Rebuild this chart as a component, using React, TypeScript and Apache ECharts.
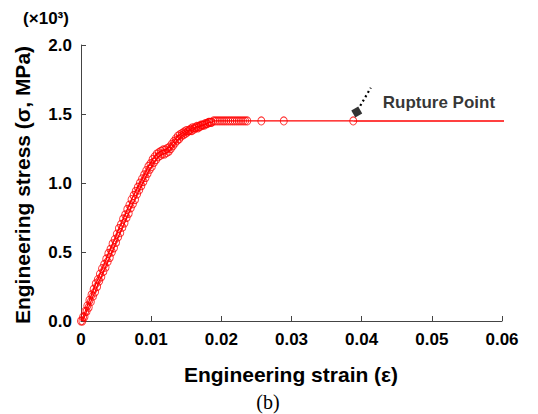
import React, { useEffect, useRef } from "react";
import * as echarts from "echarts";

// Engineering strain (-) and engineering stress (x10^3 MPa), upper branch of the band
const strainA = [
  0.0, 0.0003, 0.0006, 0.0009, 0.0012, 0.0015, 0.0018, 0.0021, 0.0024, 0.0027,
  0.003, 0.0033, 0.0036, 0.0039, 0.0042, 0.0045, 0.0048, 0.0051, 0.0054, 0.0057,
  0.006, 0.0063, 0.0066, 0.0069, 0.0072, 0.0075, 0.0078, 0.0081, 0.0084, 0.0087,
  0.009, 0.0093, 0.0096, 0.0099, 0.0102, 0.0105, 0.0108, 0.0111, 0.0114, 0.0117,
  0.012, 0.0123, 0.0126, 0.0129, 0.0132, 0.0135, 0.0138, 0.0141, 0.0144, 0.0147,
  0.015, 0.0153, 0.0156, 0.0159, 0.0162, 0.0165, 0.0168, 0.0171, 0.0174, 0.0177,
  0.018, 0.0183, 0.0186, 0.0189, 0.0192, 0.0195, 0.0198, 0.0201, 0.0204, 0.0207,
  0.021, 0.0213, 0.0216, 0.0219, 0.0222, 0.0225, 0.0228, 0.0231, 0.0234, 0.0237,
  0.0257, 0.0289, 0.0388,
];
const stressA = [
  0.0, 0.03, 0.07, 0.11, 0.15, 0.19, 0.23, 0.27, 0.3, 0.34,
  0.38, 0.41, 0.45, 0.49, 0.52, 0.56, 0.59, 0.63, 0.67, 0.7,
  0.74, 0.77, 0.81, 0.84, 0.88, 0.91, 0.94, 0.97, 1.0, 1.03,
  1.06, 1.09, 1.12, 1.14, 1.17, 1.19, 1.21, 1.22, 1.23, 1.24,
  1.24, 1.25, 1.26, 1.28, 1.3, 1.32, 1.34, 1.35, 1.36, 1.37,
  1.38, 1.38, 1.39, 1.4, 1.4, 1.41, 1.41, 1.42, 1.42, 1.43,
  1.43, 1.44, 1.44, 1.45, 1.45, 1.45, 1.45, 1.45, 1.45, 1.45,
  1.45, 1.45, 1.45, 1.45, 1.45, 1.45, 1.45, 1.45, 1.45, 1.45,
  1.45, 1.45, 1.45,
];
// lower branch of the band
const strainB = [
  0.0002, 0.0005, 0.0008, 0.0011, 0.0014, 0.0017, 0.002, 0.0023, 0.0026, 0.0029,
  0.0032, 0.0035, 0.0038, 0.0041, 0.0044, 0.0047, 0.005, 0.0053, 0.0056, 0.0059,
  0.0062, 0.0065, 0.0068, 0.0071, 0.0074, 0.0077, 0.008, 0.0083, 0.0086, 0.0089,
  0.0092, 0.0095, 0.0098, 0.0101, 0.0104, 0.0107, 0.011, 0.0113, 0.0116, 0.0119,
  0.0122, 0.0125, 0.0128, 0.0131, 0.0134, 0.0137, 0.014, 0.0143, 0.0146, 0.0149,
  0.0152, 0.0155, 0.0158, 0.0161, 0.0164, 0.0167, 0.017, 0.0173, 0.0176, 0.0179,
  0.0182, 0.0185,
];
const stressB = [
  0.0, 0.03, 0.07, 0.1, 0.14, 0.18, 0.21, 0.25, 0.29, 0.32,
  0.36, 0.39, 0.43, 0.46, 0.5, 0.53, 0.57, 0.61, 0.64, 0.68,
  0.71, 0.75, 0.78, 0.82, 0.85, 0.88, 0.92, 0.95, 0.98, 1.01,
  1.04, 1.07, 1.1, 1.12, 1.15, 1.17, 1.19, 1.2, 1.21, 1.21,
  1.22, 1.23, 1.25, 1.27, 1.29, 1.31, 1.32, 1.34, 1.35, 1.36,
  1.37, 1.38, 1.38, 1.39, 1.4, 1.4, 1.41, 1.42, 1.42, 1.43,
  1.44, 1.44,
];
// horizontal continuation of the curve after the rupture point
const tailStrain = [0.0388, 0.0628];
const tailStress = [1.45, 1.45];

// annotation ("Rupture Point")
const ruptureMarker = [0.0393, 1.514];
const ruptureArrow = [
  [0.0398, 1.56],
  [0.0413, 1.69],
];
const ruptureLabelAt = [0.043, 1.585];
const ruptureLabel = "Rupture Point";

const xTicks = [0, 0.01, 0.02, 0.03, 0.04, 0.05, 0.06];
const yTicks = [0, 0.5, 1.0, 1.5, 2.0];

const RED = "#ff0000";
const AXIS = "#444444";
const TXT = "#000000";
const FONT = "'Liberation Sans', Arial, sans-serif";

export default function App() {
  const ref = useRef<HTMLDivElement>(null);

  useEffect(() => {
    if (!ref.current) return;
    const chart = echarts.init(ref.current, undefined, { renderer: "svg" });
    const ptsA = strainA.map((s, i) => [s, stressA[i]]);
    const ptsB = strainB.map((s, i) => [s, stressB[i]]);
    const tail = tailStrain.map((s, i) => [s, tailStress[i]]);

    const bandSeries = (data: number[][]) => ({
      type: "line",
      data,
      symbol: "circle",
      symbolSize: [7, 8],
      showSymbol: true,
      showAllSymbol: true,
      itemStyle: { color: "transparent", borderColor: RED, borderWidth: 1, opacity: 0.8 },
      lineStyle: { color: RED, width: 1.2 },
      z: 3,
    });

    chart.setOption({
      animation: false,
      backgroundColor: "#ffffff",
      grid: { left: 81, right: 36, top: 45, bottom: 93, containLabel: false },
      xAxis: {
        type: "value",
        min: xTicks[0],
        max: xTicks[xTicks.length - 1],
        interval: 0.01,
        splitLine: { show: false },
        axisLine: { show: true, lineStyle: { color: AXIS, width: 1 } },
        axisTick: { show: true, inside: true, length: 5, lineStyle: { color: AXIS } },
        axisLabel: {
          margin: 10,
          color: TXT,
          fontFamily: FONT,
          fontWeight: "bold",
          fontSize: 17,
          formatter: (v: number) => (v === 0 ? "0" : v.toFixed(2)),
        },
      },
      yAxis: {
        type: "value",
        min: yTicks[0],
        max: yTicks[yTicks.length - 1],
        interval: 0.5,
        splitLine: { show: false },
        axisLine: { show: true, lineStyle: { color: AXIS, width: 1 } },
        axisTick: { show: true, inside: true, length: 5, lineStyle: { color: AXIS } },
        axisLabel: {
          margin: 9,
          color: TXT,
          fontFamily: FONT,
          fontWeight: "bold",
          fontSize: 17,
          formatter: (v: number) => v.toFixed(1),
        },
      },
      series: [
        {
          type: "line",
          data: tail,
          showSymbol: false,
          symbol: "none",
          clip: false,
          lineStyle: { color: RED, width: 1.5 },
          z: 2,
        },
        bandSeries(ptsB),
        bandSeries(ptsA),
        {
          type: "line",
          data: ruptureArrow,
          symbol: "none",
          lineStyle: { color: "#000", width: 2.2, type: [2, 3] },
          z: 4,
        },
        {
          type: "scatter",
          data: [ruptureMarker],
          symbol: "rect",
          symbolSize: 8,
          symbolRotate: 30,
          itemStyle: { color: "#000" },
          z: 5,
        },
        {
          type: "scatter",
          data: [ruptureLabelAt],
          symbolSize: 0,
          label: {
            show: true,
            position: "right",
            distance: 0,
            formatter: ruptureLabel,
            color: TXT,
            fontFamily: FONT,
            fontWeight: "bold",
            fontSize: 17,
          },
          z: 5,
        },
      ],
      graphic: [
        {
          type: "text",
          x: 46,
          y: 18,
          style: {
            text: "(×10³)",
            fill: TXT,
            font: `bold 17px ${FONT}`,
            textAlign: "center",
            textVerticalAlign: "middle",
          },
        },
        {
          type: "text",
          x: 22,
          y: 185,
          rotation: Math.PI / 2,
          style: {
            text: "Engineering stress (σ, MPa)",
            fill: TXT,
            font: `bold 21px ${FONT}`,
            textAlign: "center",
            textVerticalAlign: "middle",
          },
        },
        {
          type: "text",
          x: 291,
          y: 374,
          style: {
            text: "Engineering strain (ε)",
            fill: TXT,
            font: `bold 21px ${FONT}`,
            textAlign: "center",
            textVerticalAlign: "middle",
          },
        },
        {
          type: "text",
          x: 268,
          y: 402,
          style: {
            text: "(b)",
            fill: TXT,
            font: `20px 'Liberation Serif', 'Times New Roman', serif`,
            textAlign: "center",
            textVerticalAlign: "middle",
          },
        },
      ],
    });
    return () => chart.dispose();
  }, []);

  return <div ref={ref} style={{ width: 538, height: 414, position: "absolute", left: 0, top: 0 }} />;
}
